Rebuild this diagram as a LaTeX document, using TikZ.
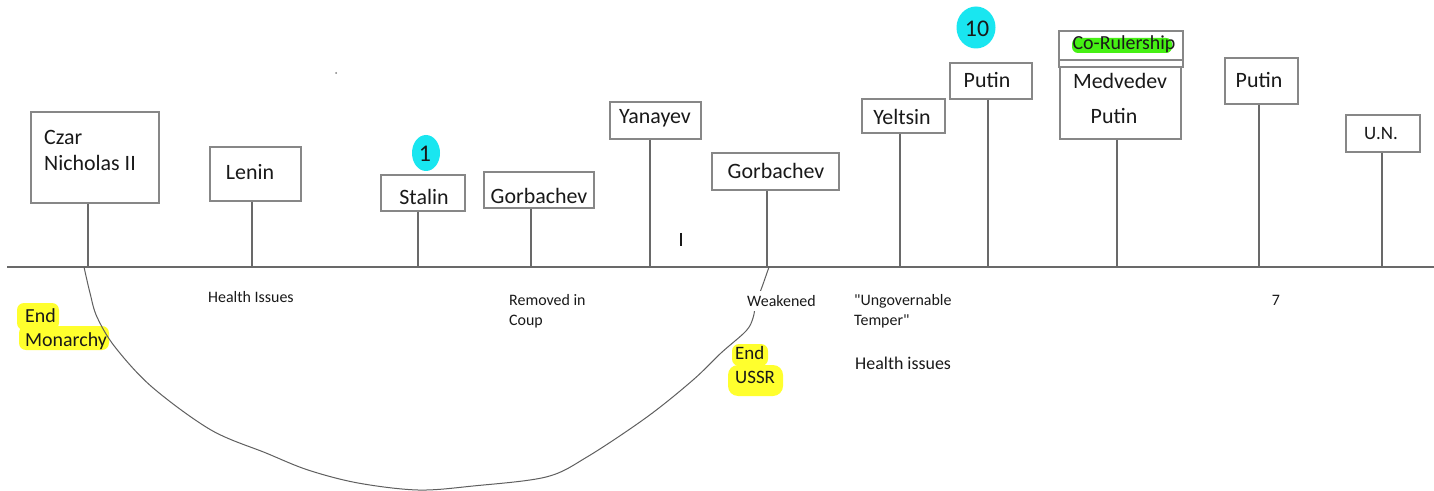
\documentclass[tikz,border=0pt]{standalone}
\usepackage{fontspec}
\setmainfont{Carlito}
\definecolor{ink}{RGB}{25,25,25}
\definecolor{boxgray}{RGB}{135,135,135}
\definecolor{linegray}{RGB}{105,105,105}
\definecolor{curvegray}{RGB}{95,95,95}
\definecolor{hlyellow}{RGB}{255,255,45}
\definecolor{hlcyan}{RGB}{25,230,240}
\definecolor{hlgreen}{RGB}{70,240,20}
\begin{document}
\begin{tikzpicture}[x=1bp,y=-1bp,
  frame/.style={draw=boxgray, line width=1.2bp, inner sep=0pt},
  stem/.style={draw=linegray, line width=1.1bp},
  big/.style={font=\fontsize{22}{26}\selectfont, text=ink, inner sep=0pt},
  mid/.style={font=\fontsize{20}{24}\selectfont, text=ink, inner sep=0pt, anchor=west, align=left},
  small/.style={font=\fontsize{16}{20}\selectfont, text=ink, inner sep=0pt, anchor=west, align=left},
  num/.style={font=\fontsize{24}{28}\selectfont, text=ink, inner sep=0pt},
  hl/.style={rounded corners=7bp}]
\useasboundingbox (0,0) rectangle (1434,491);
\fill[white] (0,0) rectangle (1434,491);

% highlights
\fill[hlyellow, hl] (17,303) rectangle (59,330);
\fill[hlyellow, hl] (19,326) rectangle (109,350);
\fill[hlyellow, hl] (732,344) rectangle (768,366);
\fill[hlyellow, rounded corners=10bp] (728,365) rectangle (783,396);
\fill[hlcyan] (426,153) ellipse [x radius=14bp, y radius=18bp];
\fill[hlcyan] (976,27.5) ellipse [x radius=19.5bp, y radius=21bp];
\fill[hlgreen, rounded corners=6bp] (1072,38) rectangle (1172,53);

% timeline
\coordinate (tl) at (7,267);
\coordinate (tr) at (1434,267);
\draw[stem] (tl) -- (tr);

% stems' feet on the timeline
\coordinate (s1) at (88,267);
\coordinate (s2) at (252,267);
\coordinate (s3) at (418,267);
\coordinate (s4) at (531,267);
\coordinate (s5) at (650,267);
\coordinate (s6) at (767,267);
\coordinate (s7) at (900,267);
\coordinate (s8) at (988,267);
\coordinate (s9) at (1117,267);
\coordinate (s10) at (1259,267);
\coordinate (s11) at (1382,267);

% boxes
\node[frame, minimum width=128bp, minimum height=91bp] (czar) at (95,157.5) {};
\node[frame, minimum width=91bp, minimum height=54bp] (lenin) at (255.5,174) {};
\node[frame, minimum width=84bp, minimum height=36bp] (stalin) at (423,193) {};
\node[frame, minimum width=110bp, minimum height=36bp] (gorb1) at (539,190) {};
\node[frame, minimum width=91bp, minimum height=37bp] (yanayev) at (655.5,120.5) {};
\node[frame, minimum width=127bp, minimum height=37bp] (gorb2) at (775.5,171.5) {};
\node[frame, minimum width=83bp, minimum height=34bp] (yeltsin) at (903.5,116) {};
\node[frame, minimum width=82bp, minimum height=36bp] (putin1) at (991,81) {};
\node[frame, minimum width=124bp, minimum height=36bp] (corule) at (1121,49) {};
\node[frame, minimum width=121bp, minimum height=72bp] (medput) at (1120.5,103) {};
\node[frame, minimum width=73bp, minimum height=46bp] (putin3) at (1261.5,81) {};
\node[frame, minimum width=74bp, minimum height=37bp] (un) at (1383,133.5) {};
\draw[boxgray, line width=1.2bp] (corule.west |- 0,60) -- (corule.east |- 0,60);

% stems
\draw[stem] (s1 |- czar.south) -- (s1);
\draw[stem] (s2 |- lenin.south) -- (s2);
\draw[stem] (s3 |- stalin.south) -- (s3);
\draw[stem] (s4 |- gorb1.south) -- (s4);
\draw[stem] (s5 |- yanayev.south) -- (s5);
\draw[stem] (s6 |- gorb2.south) -- (s6);
\draw[stem] (s7 |- yeltsin.south) -- (s7);
\draw[stem] (s8 |- putin1.south) -- (s8);
\draw[stem] (s9 |- medput.south) -- (s9);
\draw[stem] (s10 |- putin3.south) -- (s10);
\draw[stem] (s11 |- un.south) -- (s11);

% box labels
\node[big, anchor=west] (tczar) at (44,137) {Czar};
\node[big, anchor=west] (tnich) at (44,163) {Nicholas II};
\node[big] (tlenin) at (250,172) {Lenin};
\node[big] (tstalin) at (424,197) {Stalin};
\node[big] (tgorb1) at (539,196) {Gorbachev};
\node[big] (tyan) at (655,118) {Yanayev};
\node[big] (tgorb2) at (776,171) {Gorbachev};
\node[big] (tyel) at (902,117) {Yeltsin};
\node[big] (tput1) at (987,80) {Putin};
\node[font=\fontsize{20}{24}\selectfont, text=ink, inner sep=0pt] (tco) at (1124,44) {Co-Rulership};
\node[big] (tmed) at (1120,81) {Medvedev};
\node[big] (tput2) at (1114,116) {Putin};
\node[big] (tput3) at (1259,80) {Putin};
\node[font=\fontsize{19}{23}\selectfont, text=ink, inner sep=0pt] (tun) at (1381,134) {U.N.};

% numbers
\node[num] (n1) at (425,154) {1};
\node[num] (n10) at (977,29) {10};
\node[small, anchor=center] (n7) at (1276,300) {7};

% curve
\coordinate (ca) at (84,267);
\coordinate (cb) at (769,267);
\draw[curvegray, line width=1bp] plot[smooth, tension=0.55] coordinates {(ca) (90,293) (97,317) (115,347) (152,387) (211,430) (266,453) (308,470) (358,483) (418,490) (473,486) (546,477) (587,457) (647,417) (693,380) (721,353) (746,331) (753,318) (756,303) (762,287) (cb)};

% texts below the timeline
\node[small] (health1) at (208,297) {Health Issues};
\node[small] (removed) at (509,311) {Removed in\\Coup};
\node[small, fill=white, inner xsep=1bp, inner ysep=4bp] (weak) at (746,301) {Weakened};
\node[small] (ungov) at (854,311) {\textquotedbl Ungovernable\\Temper\textquotedbl};
\node[font=\fontsize{18}{22}\selectfont, text=ink, inner sep=0pt, anchor=west] (health2) at (855,363) {Health issues};
\node[mid, font=\fontsize{20}{24}\selectfont] (endmon) at (25,329) {End\\Monarchy};
\node[mid, font=\fontsize{19}{24}\selectfont] (endussr) at (735,365) {End\\USSR};

% stray marks
\draw[ink, line width=1.2bp] (681,233) -- (681,246);
\fill[gray] (336,73) circle (1bp);
\end{tikzpicture}
\end{document}
